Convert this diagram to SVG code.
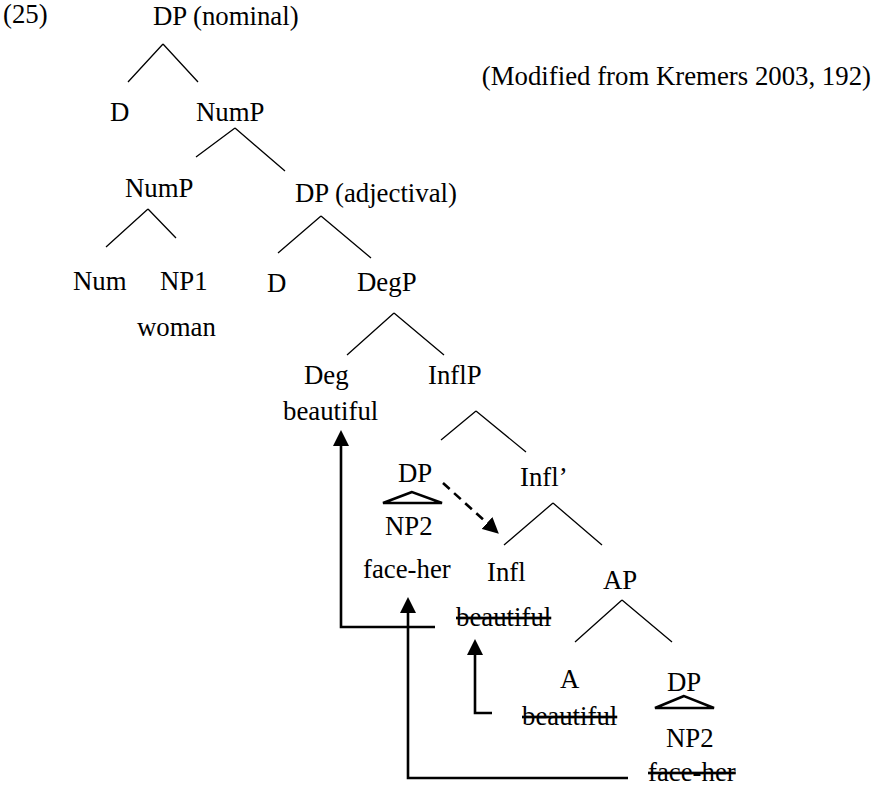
<svg xmlns="http://www.w3.org/2000/svg" width="874" height="787" viewBox="0 0 874 787">
<defs>
<style>
text{font-family:"Liberation Serif","Times New Roman",serif;font-size:26.8px;fill:#000}
.br{stroke:#000;stroke-width:1.3;fill:none}
.tri{stroke:#000;stroke-width:2.5;fill:none;stroke-linejoin:miter}
.mv{stroke:#000;stroke-width:2.6;fill:none}
.dash{stroke:#000;stroke-width:2.6;fill:none;stroke-dasharray:9 6}
.del{text-decoration:line-through}
</style>
<marker id="ah" viewBox="0 -8 16 16" refX="0" refY="0" markerWidth="16" markerHeight="16" markerUnits="userSpaceOnUse" orient="auto">
<path d="M0,-8 L16,0 L0,8 z" fill="#000"/>
</marker>
</defs>
<rect width="874" height="787" fill="#fff"/>
<text x="3" y="23">(25)</text>
<text x="871" y="85" text-anchor="end">(Modified from Kremers 2003, 192)</text>
<g id="dp-nominal"><text x="153" y="25">DP (nominal)</text></g>
<g id="d1"><text x="110" y="121">D</text></g>
<g id="nump1"><text x="196" y="121">NumP</text></g>
<g id="nump2"><text x="125" y="197">NumP</text></g>
<g id="dp-adj"><text x="295" y="202">DP (adjectival)</text></g>
<g id="num"><text x="73" y="290">Num</text></g>
<g id="np1"><text x="160" y="290">NP1</text><text x="137" y="336">woman</text></g>
<g id="d2"><text x="267" y="292">D</text></g>
<g id="degp"><text x="357" y="291">DegP</text></g>
<g id="deg"><text x="304" y="384">Deg</text><text x="283" y="420">beautiful</text></g>
<g id="inflp"><text x="428" y="384">InflP</text></g>
<g id="dp-spec"><text x="398" y="482">DP</text><polygon class="tri" points="412,492 383,503 442,503"/><text x="385" y="535">NP2</text><text x="363" y="578">face-her</text></g>
<g id="inflbar"><text x="520" y="486">Infl’</text></g>
<g id="infl"><text x="487" y="581">Infl</text><text class="del" x="456" y="626">beautiful</text></g>
<g id="ap"><text x="603" y="589">AP</text></g>
<g id="a"><text x="560" y="688">A</text><text class="del" x="522" y="725">beautiful</text></g>
<g id="dp-comp"><text x="667" y="691">DP</text><polygon class="tri" points="684,696 655,708 714,708"/><text x="666" y="747">NP2</text><text class="del" x="648" y="781">face-her</text></g>
<g id="connectors">
<path class="br" d="M163,44 L128,82 M163,44 L198,82"/>
<path class="br" d="M235,128 L196,157 M235,128 L285,171"/>
<path class="br" d="M148,209 L106,247 M148,209 L176,238"/>
<path class="br" d="M321,216 L278,253 M321,216 L371,258"/>
<path class="br" d="M394,313 L347,355 M394,313 L444,355"/>
<path class="br" d="M476,411 L441,440 M476,411 L526,452"/>
<path class="br" d="M553,503 L504,545 M553,503 L602,545"/>
<path class="br" d="M622,600 L575,642 M622,600 L672,642"/>
<path class="mv" d="M435,627 H341 V446" marker-end="url(#ah)"/>
<path class="mv" d="M628,778 H408 V613" marker-end="url(#ah)"/>
<path class="mv" d="M492,713 H475 V655" marker-end="url(#ah)"/>
<path class="dash" d="M443,483 L487,523" marker-end="url(#ah)"/>
</g>
</svg>
